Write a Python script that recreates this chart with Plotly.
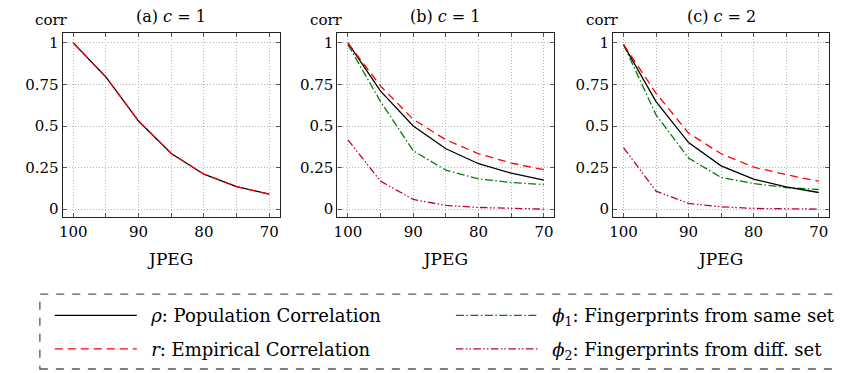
import plotly.graph_objects as go

jpeg = [100, 95, 90, 85, 80, 75, 70]

a_rho = [1.0, 0.795, 0.53, 0.335, 0.21, 0.136, 0.09]
a_r = [1.0, 0.795, 0.53, 0.335, 0.21, 0.136, 0.09]

b_rho = [1.0, 0.71, 0.50, 0.363, 0.273, 0.216, 0.174]
b_r = [1.0, 0.74, 0.54, 0.417, 0.333, 0.277, 0.237]
b_phi1 = [0.99, 0.647, 0.351, 0.234, 0.182, 0.16, 0.148]
b_phi2 = [0.417, 0.168, 0.058, 0.022, 0.01, 0.004, 0.0]

c_rho = [0.99, 0.647, 0.40, 0.26, 0.18, 0.134, 0.10]
c_r = [0.99, 0.697, 0.457, 0.333, 0.253, 0.207, 0.168]
c_phi1 = [0.99, 0.567, 0.307, 0.19, 0.154, 0.13, 0.118]
c_phi2 = [0.37, 0.108, 0.034, 0.014, 0.004, 0.002, 0.0]

titles = ["(a) <i>c</i> = 1", "(b) <i>c</i> = 1", "(c) <i>c</i> = 2"]
x_tickvals = [100, 95, 90, 85, 80, 75, 70]
x_ticktext = ["100", "", "90", "", "80", "", "70"]
y_tickvals = [0, 0.25, 0.5, 0.75, 1]
y_ticktext = ["0", "0.25", "0.5", "0.75", "1"]

SP = "&nbsp;\u2009"
names = {
    "rho": SP + "<i>ρ</i>: Population Correlation",
    "r": SP + "<i>r</i>: Empirical Correlation",
    "phi1": SP + "<i>ϕ</i><sub>1</sub>: Fingerprints from same set",
    "phi2": SP + "<i>ϕ</i><sub>2</sub>: Fingerprints from diff. set",
}
styles = {
    "rho": dict(color="black", width=1.3, dash="solid"),
    "r": dict(color="#ff0000", width=1.3, dash="8px,5px"),
    "phi1": dict(color="#008000", width=1.3, dash="8px,2.5px,1.5px,2.5px"),
    "phi2": dict(color="#bf0040", width=1.3, dash="7.5px,2.5px,1.5px,2px,1.5px,2.5px"),
}

FONT = "DejaVu Serif"
OFF = 8  # page body margin
W, H = 846 - OFF, 373 - OFF


def px(v):
    return (v - OFF) / W


def py(v):
    return 1 - (v - OFF) / H


fig = go.Figure()

panels = [
    {"rho": a_rho, "r": a_r},
    {"rho": b_rho, "r": b_r, "phi1": b_phi1, "phi2": b_phi2},
    {"rho": c_rho, "r": c_r, "phi1": c_phi1, "phi2": c_phi2},
]
box_px = [(59, 277), (335, 553), (612, 829)]
top_px, bot_px = 33, 218

for i, series in enumerate(panels):
    ax = "" if i == 0 else str(i + 1)
    for key in ["phi2", "phi1", "rho", "r"]:
        if key not in series:
            continue
        show = (i == 1)
        leg = "legend" if key in ("rho", "r") else "legend2"
        fig.add_trace(go.Scatter(
            x=jpeg, y=series[key], mode="lines", line=styles[key],
            name=names[key], showlegend=show, legend=leg,
            legendgroup=key, legendrank={"rho": 1, "r": 2, "phi1": 1, "phi2": 2}[key],
            xaxis="x" + ax, yaxis="y" + ax,
        ))
    x0, x1 = box_px[i]
    common = dict(showline=True, linecolor="#222222", linewidth=1.2, mirror="allticks",
                  ticks="inside", ticklen=4, tickcolor="#555555", tickwidth=1,
                  showgrid=True, gridcolor="#b4b4b4", griddash="1px,2px", gridwidth=1,
                  zeroline=False, tickfont=dict(family=FONT, size=15, color="black"))
    fig.update_layout(**{
        "xaxis" + ax: dict(domain=[px(x0), px(x1)], range=[101.6, 68.4],
                           tickvals=x_tickvals, ticktext=x_ticktext,
                           title=dict(text="JPEG", font=dict(family=FONT, size=17, color="black"), standoff=13),
                           anchor="y" + ax, **common),
        "yaxis" + ax: dict(domain=[py(bot_px), py(top_px)], range=[-0.05, 1.06],
                           tickvals=y_tickvals, ticktext=y_ticktext,
                           anchor="x" + ax, **common),
    })
    fig.add_annotation(text=titles[i], xref="paper", yref="paper",
                       x=px((x0 + x1) / 2), y=py(16.5), xanchor="center", yanchor="middle",
                       showarrow=False, font=dict(family=FONT, size=16, color="black"))
    fig.add_annotation(text="corr", xref="paper", yref="paper",
                       x=px(x0 - 11), y=py(20), xanchor="center", yanchor="middle",
                       showarrow=False, font=dict(family=FONT, size=15, color="black"))

# dashed legend frame
fig.add_shape(type="rect", xref="paper", yref="paper",
              x0=px(36), x1=1.02, y0=py(370), y1=py(295),
              line=dict(color="#555555", width=1.3, dash="8px,8px"))

legfont = dict(family=FONT, size=18, color="black")
fig.update_layout(
    width=W, height=H, margin=dict(l=0, r=0, t=0, b=0),
    paper_bgcolor="white", plot_bgcolor="white",
    legend=dict(x=px(46), y=py(298), xanchor="left", yanchor="top",
                font=legfont, itemwidth=82, tracegroupgap=7, bgcolor="rgba(0,0,0,0)"),
    legend2=dict(x=px(449), y=py(298), xanchor="left", yanchor="top",
                 font=legfont, itemwidth=82, tracegroupgap=7, bgcolor="rgba(0,0,0,0)"),
)

fig.write_html("out.html")
